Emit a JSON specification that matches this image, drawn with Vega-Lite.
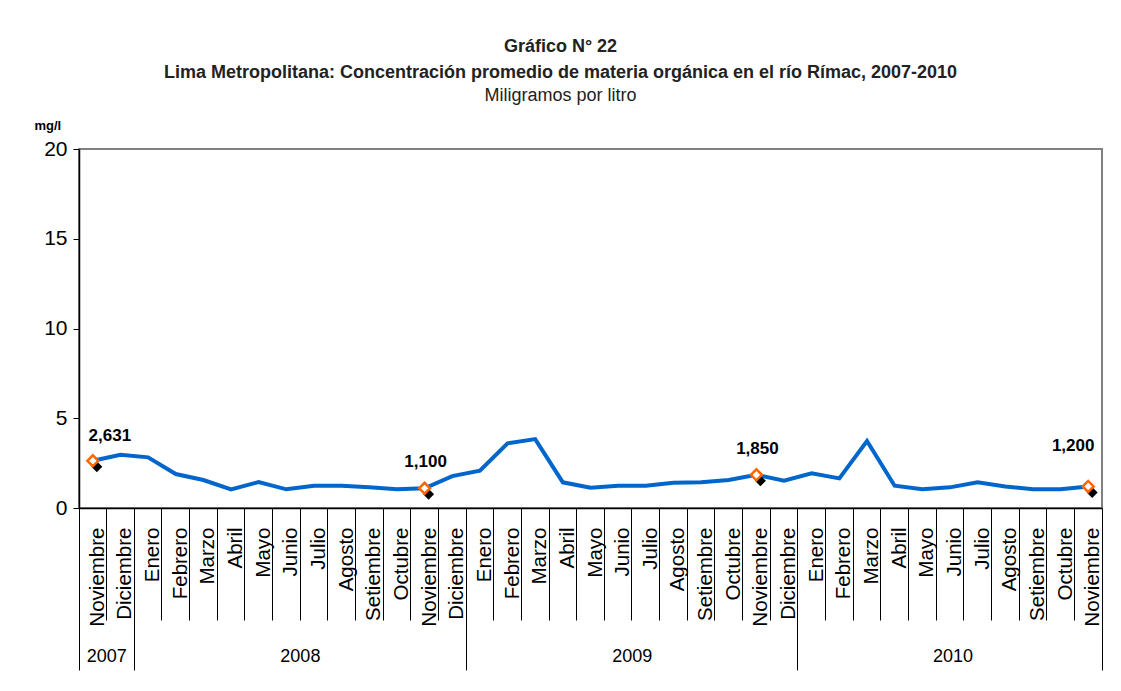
{
  "$schema": "https://vega.github.io/schema/vega-lite/v6.json",
  "autosize": {"type": "none"},
  "width": 1023,
  "height": 359,
  "padding": {"left": 79, "top": 149, "right": 19, "bottom": 183},
  "background": "white",
  "config": {
    "font": "Liberation Sans, Arial, sans-serif",
    "view": {"stroke": "#808080", "strokeWidth": 2}
  },
  "title": {
    "text": ["Gráfico N° 22", "Lima Metropolitana: Concentración promedio de materia orgánica en el río Rímac, 2007-2010"],
    "subtitle": "Miligramos por litro",
    "anchor": "middle",
    "dx": -30,
    "offset": 14,
    "fontSize": 18,
    "fontWeight": "bold",
    "color": "#222222",
    "lineHeight": 26,
    "subtitleFontSize": 18,
    "subtitleColor": "#222222",
    "subtitlePadding": 5,
    "font": "Liberation Sans, Arial, sans-serif",
    "subtitleFont": "Liberation Sans, Arial, sans-serif"
  },
  "data": {
    "values": [
      {"t": "2007-11", "v": 2.631, "lab": "2,631"},
      {"t": "2007-12", "v": 2.97},
      {"t": "2008-01", "v": 2.82},
      {"t": "2008-02", "v": 1.89},
      {"t": "2008-03", "v": 1.56},
      {"t": "2008-04", "v": 1.04},
      {"t": "2008-05", "v": 1.45},
      {"t": "2008-06", "v": 1.04},
      {"t": "2008-07", "v": 1.24},
      {"t": "2008-08", "v": 1.24},
      {"t": "2008-09", "v": 1.15},
      {"t": "2008-10", "v": 1.04},
      {"t": "2008-11", "v": 1.1, "lab": "1,100"},
      {"t": "2008-12", "v": 1.78},
      {"t": "2009-01", "v": 2.08},
      {"t": "2009-02", "v": 3.6},
      {"t": "2009-03", "v": 3.84},
      {"t": "2009-04", "v": 1.43},
      {"t": "2009-05", "v": 1.13},
      {"t": "2009-06", "v": 1.24},
      {"t": "2009-07", "v": 1.24},
      {"t": "2009-08", "v": 1.41},
      {"t": "2009-09", "v": 1.43},
      {"t": "2009-10", "v": 1.56},
      {"t": "2009-11", "v": 1.85, "lab": "1,850"},
      {"t": "2009-12", "v": 1.52},
      {"t": "2010-01", "v": 1.93},
      {"t": "2010-02", "v": 1.65},
      {"t": "2010-03", "v": 3.73},
      {"t": "2010-04", "v": 1.24},
      {"t": "2010-05", "v": 1.04},
      {"t": "2010-06", "v": 1.15},
      {"t": "2010-07", "v": 1.43},
      {"t": "2010-08", "v": 1.2},
      {"t": "2010-09", "v": 1.04},
      {"t": "2010-10", "v": 1.04},
      {"t": "2010-11", "v": 1.2, "lab": "1,200"}
    ]
  },
  "resolve": {"axis": {"x": "independent"}},
  "layer": [
    {
      "mark": {"type": "line", "color": "#0066CC", "strokeWidth": 4},
      "encoding": {
        "x": {
          "field": "t", "type": "nominal", "sort": null,
          "scale": {"type": "band", "paddingInner": 0, "paddingOuter": 0},
          "axis": {
            "orient": "bottom",
            "title": null,
            "bandPosition": 0,
            "domainColor": "black",
            "domainWidth": 1.5,
            "tickColor": "black",
            "tickWidth": 1,
            "tickSize": {"condition": {"test": "substring(datum.value,5,7) == '01' || datum.value == '2007-11'", "value": 162}, "value": 112},
            "labelAngle": -90,
            "labelAlign": "right",
            "labelBaseline": "middle",
            "labelOffset": 5,
            "labelPadding": {"condition": {"test": "substring(datum.value,5,7) == '01' || datum.value == '2007-11'", "value": -143}, "value": -93},
            "labelFontSize": 20.5,
            "labelColor": "black",
            "labelExpr": "['Enero','Febrero','Marzo','Abril','Mayo','Junio','Julio','Agosto','Setiembre','Octubre','Noviembre','Diciembre'][parseInt(substring(datum.value,5,7))-1]"
          }
        },
        "y": {
          "field": "v", "type": "quantitative",
          "scale": {"domain": [0, 20], "nice": false},
          "axis": {
            "values": [0, 5, 10, 15, 20],
            "grid": false,
            "domainColor": "black",
            "domainWidth": 1.5,
            "tickColor": "black",
            "tickSize": 6,
            "labelFontSize": 21,
            "labelColor": "black",
            "labelPadding": 6,
            "title": "mg/l",
            "titleAngle": 0,
            "titleAlign": "left",
            "titleBaseline": "middle",
            "titleX": -45,
            "titleY": -24,
            "titleFontSize": 13,
            "titleFontWeight": "bold",
            "titleColor": "black"
          }
        }
      }
    },
    {
      "transform": [{"filter": "isValid(datum.lab)"}],
      "mark": {"type": "point", "shape": "diamond", "filled": true, "color": "black", "opacity": 1, "size": 120, "xOffset": 4, "yOffset": 6},
      "encoding": {
        "x": {
          "field": "t", "type": "nominal", "sort": null,
          "axis": {
            "orient": "bottom",
            "title": null,
            "domain": false,
            "bandPosition": 1,
            "values": ["2007-11", "2008-06", "2009-06", "2010-06", "2010-11"],
            "tickColor": "black",
            "tickWidth": 1,
            "tickSize": 162,
            "tickOpacity": {"condition": {"test": "datum.value == '2010-11'", "value": 1}, "value": 0},
            "labelAngle": 0,
            "labelAlign": "center",
            "labelBaseline": "middle",
            "labelPadding": -14,
            "labelFontSize": 18,
            "labelColor": "black",
            "labelOffset": {"condition": {"test": "datum.value == '2010-06'", "value": 3}, "value": 14},
            "labelExpr": "datum.value == '2010-11' ? '' : substring(datum.value,0,4)"
          }
        },
        "y": {"field": "v", "type": "quantitative"}
      }
    },
    {
      "transform": [{"filter": "isValid(datum.lab)"}],
      "mark": {"type": "point", "shape": "diamond", "filled": true, "fill": "white", "stroke": "#FF6600", "strokeWidth": 2.5, "size": 120, "opacity": 1},
      "encoding": {
        "x": {"field": "t", "type": "nominal", "sort": null, "axis": null},
        "y": {"field": "v", "type": "quantitative"}
      }
    },
    {
      "transform": [{"filter": "datum.t == '2007-11'"}],
      "mark": {"type": "text", "fontSize": 17, "fontWeight": "bold", "color": "black", "dx": 17, "dy": -25},
      "encoding": {
        "x": {"field": "t", "type": "nominal", "sort": null, "axis": null},
        "y": {"field": "v", "type": "quantitative"},
        "text": {"field": "lab"}
      }
    },
    {
      "transform": [{"filter": "datum.t == '2008-11' || datum.t == '2009-11'"}],
      "mark": {"type": "text", "fontSize": 17, "fontWeight": "bold", "color": "black", "dx": 1, "dy": -26},
      "encoding": {
        "x": {"field": "t", "type": "nominal", "sort": null, "axis": null},
        "y": {"field": "v", "type": "quantitative"},
        "text": {"field": "lab"}
      }
    },
    {
      "transform": [{"filter": "datum.t == '2010-11'"}],
      "mark": {"type": "text", "fontSize": 17, "fontWeight": "bold", "color": "black", "dx": -15, "dy": -40},
      "encoding": {
        "x": {"field": "t", "type": "nominal", "sort": null, "axis": null},
        "y": {"field": "v", "type": "quantitative"},
        "text": {"field": "lab"}
      }
    }
  ]
}
